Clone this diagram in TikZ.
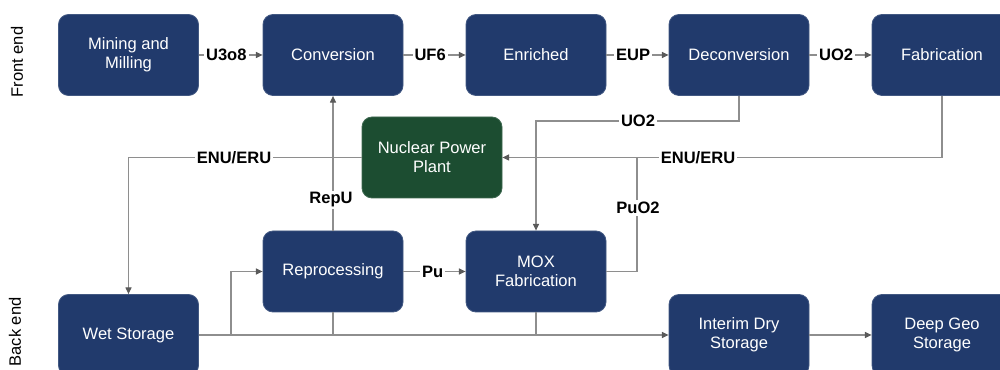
\documentclass[tikz,border=0pt]{standalone}
\usepackage{fontspec}
\setmainfont{Liberation Sans}
\usetikzlibrary{arrows.meta}
\definecolor{navy}{HTML}{213A6C}
\definecolor{plantgreen}{HTML}{1C4D31}
\definecolor{linegray}{HTML}{8E8E8E}
\definecolor{tipgray}{HTML}{5A5A5A}
\begin{document}
\begin{tikzpicture}[x=0.75pt,y=-0.75pt,
  box/.style={rectangle, rounded corners=7.5pt, fill=navy, draw=navy!85!white, line width=0.6pt,
    text=white, minimum width=105pt, minimum height=60.75pt, align=center, inner sep=0pt,
    font=\fontsize{12.4}{14.25}\selectfont},
  plantbox/.style={box, fill=plantgreen, draw=plantgreen!85!white},
  conn/.style={draw=linegray, line width=0.8pt, -{Triangle[length=5pt,width=4.5pt,color=tipgray]}},
  plainline/.style={draw=linegray, line width=0.8pt},
  lbl/.style={fill=white, inner sep=1.5pt, font=\bfseries\fontsize{12.4}{14}\selectfont},
  side/.style={rotate=90, font=\fontsize{12.4}{14}\selectfont}
]
\useasboundingbox (0,0) rectangle (1000,370);

% side labels
\node[side] (fe) at (17,62) {Front end};
\node[side] (be) at (15,332) {Back end};

% boxes
\node[box] (mm) at (128.5,55) {Mining and\\Milling};
\node[box] (conv) at (333,55) {Conversion};
\node[box] (enr) at (536,55) {Enriched};
\node[box] (dec) at (739,55) {Deconversion};
\node[box] (fab) at (942,55) {Fabrication};
\node[plantbox] (npp) at (432,157.5) {Nuclear Power\\Plant};
\node[box] (repro) at (333,271.5) {Reprocessing};
\node[box] (mox) at (536,271.5) {MOX\\Fabrication};
\node[box] (wet) at (128.5,335) {Wet Storage};
\node[box] (idry) at (739,335) {Interim Dry\\Storage};
\node[box] (deep) at (942,335) {Deep Geo\\Storage};

% junction coordinates
\coordinate (jdec) at (739,121);
\coordinate (jmox) at (637,157.5);
\coordinate (jwet) at (231,335);
\coordinate (jrep) at (333,335);
\coordinate (jmoxb) at (536,335);

% top row flows
\draw[conn] (mm) -- node[lbl, pos=0.43] (l1) {U3o8} (conv);
\draw[conn] (conv) -- node[lbl, pos=0.43] (l2) {UF6} (enr);
\draw[conn] (enr) -- node[lbl, pos=0.43] (l3) {EUP} (dec);
\draw[conn] (dec) -- node[lbl, pos=0.43] (l4) {UO2} (fab);

% deconversion -> MOX
\draw[conn] (dec.south) -- (jdec) -| (mox.north);
\node[lbl] (l5) at (638,121) {UO2};

% fabrication -> NPP
\draw[conn] (fab.south) |- (npp.east);
\node[lbl] (l6) at (698,157.5) {ENU/ERU};

% NPP -> wet storage
\draw[conn] (npp.west) -| (wet.north);
\node[lbl] (l7) at (234,157.5) {ENU/ERU};

% reprocessing -> conversion
\draw[conn] (repro.north) -- (conv.south);
\node[lbl] (l8) at (331,200) {RepU};

% MOX -> NPP line
\draw[plainline] (mox.east) -| (jmox);
\node[lbl] (l9) at (638,208) {PuO2};

% reprocessing -> MOX
\draw[conn] (repro) -- node[lbl, pos=0.47] (l10) {Pu} (mox);

% back end flows
\draw[conn] (wet.east) -- (idry.west);
\draw[conn] (jwet) |- (repro.west);
\draw[plainline] (repro.south) -- (jrep);
\draw[plainline] (mox.south) -- (jmoxb);
\draw[conn] (idry) -- (deep);
\end{tikzpicture}
\end{document}
